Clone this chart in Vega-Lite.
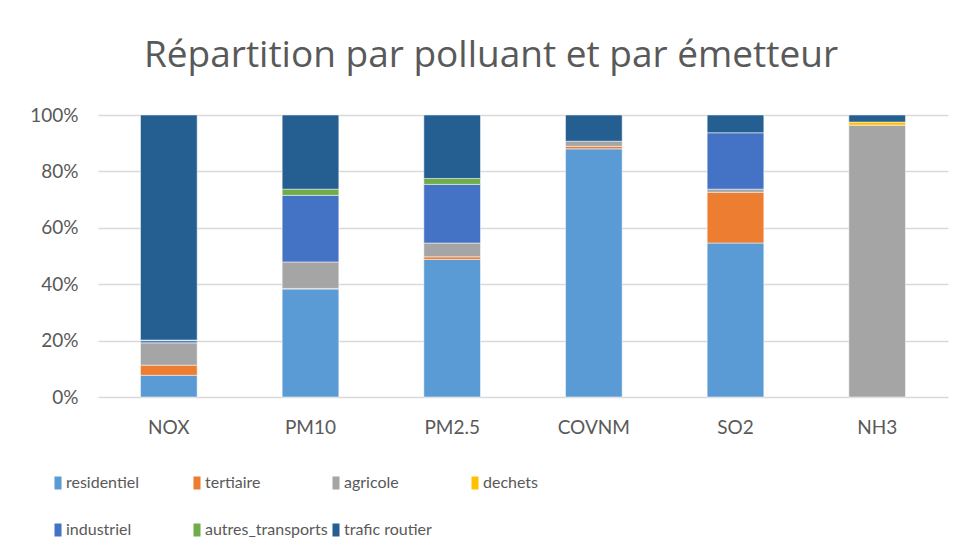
{
  "$schema": "https://vega.github.io/schema/vega-lite/v6.json",
  "width": 850,
  "height": 282,
  "autosize": {"type": "none"},
  "padding": {"left": 98, "top": 115, "right": 10, "bottom": 156},
  "background": "white",
  "config": {
    "view": {"stroke": null},
    "font": "Lato",
    "axis": {"labelFont": "Lato", "labelColor": "#595959", "labelFontSize": 19, "domain": false, "ticks": false, "title": null},
    "legend": {"labelFont": "Lato", "labelColor": "#595959", "labelFontSize": 16}
  },
  "title": {
    "text": "Répartition par polluant et par émetteur",
    "font": "Open Sans",
    "fontSize": 37,
    "fontWeight": "normal",
    "color": "#595959",
    "anchor": "middle",
    "dx": -32,
    "offset": 31
  },
  "data": {
    "values": [
      {"polluant": "NOX", "emetteur": "residentiel", "rang": 1, "part": 7.7},
      {"polluant": "NOX", "emetteur": "tertiaire", "rang": 2, "part": 3.6},
      {"polluant": "NOX", "emetteur": "agricole", "rang": 3, "part": 7.9},
      {"polluant": "NOX", "emetteur": "industriel", "rang": 5, "part": 0.8},
      {"polluant": "NOX", "emetteur": "autres_transports", "rang": 6, "part": 0.2},
      {"polluant": "NOX", "emetteur": "trafic routier", "rang": 7, "part": 79.8},
      {"polluant": "PM10", "emetteur": "residentiel", "rang": 1, "part": 38.3},
      {"polluant": "PM10", "emetteur": "tertiaire", "rang": 2, "part": 0.2},
      {"polluant": "PM10", "emetteur": "agricole", "rang": 3, "part": 9.4},
      {"polluant": "PM10", "emetteur": "industriel", "rang": 5, "part": 23.6},
      {"polluant": "PM10", "emetteur": "autres_transports", "rang": 6, "part": 2.2},
      {"polluant": "PM10", "emetteur": "trafic routier", "rang": 7, "part": 26.3},
      {"polluant": "PM2.5", "emetteur": "residentiel", "rang": 1, "part": 48.8},
      {"polluant": "PM2.5", "emetteur": "tertiaire", "rang": 2, "part": 0.9},
      {"polluant": "PM2.5", "emetteur": "agricole", "rang": 3, "part": 4.9},
      {"polluant": "PM2.5", "emetteur": "industriel", "rang": 5, "part": 20.8},
      {"polluant": "PM2.5", "emetteur": "autres_transports", "rang": 6, "part": 2.1},
      {"polluant": "PM2.5", "emetteur": "trafic routier", "rang": 7, "part": 22.5},
      {"polluant": "COVNM", "emetteur": "residentiel", "rang": 1, "part": 88.0},
      {"polluant": "COVNM", "emetteur": "tertiaire", "rang": 2, "part": 0.9},
      {"polluant": "COVNM", "emetteur": "agricole", "rang": 3, "part": 1.8},
      {"polluant": "COVNM", "emetteur": "trafic routier", "rang": 7, "part": 9.3},
      {"polluant": "SO2", "emetteur": "residentiel", "rang": 1, "part": 54.6},
      {"polluant": "SO2", "emetteur": "tertiaire", "rang": 2, "part": 18.0},
      {"polluant": "SO2", "emetteur": "agricole", "rang": 3, "part": 1.1},
      {"polluant": "SO2", "emetteur": "industriel", "rang": 5, "part": 20.0},
      {"polluant": "SO2", "emetteur": "trafic routier", "rang": 7, "part": 6.3},
      {"polluant": "NH3", "emetteur": "agricole", "rang": 3, "part": 96.4},
      {"polluant": "NH3", "emetteur": "dechets", "rang": 4, "part": 1.1},
      {"polluant": "NH3", "emetteur": "trafic routier", "rang": 7, "part": 2.5}
    ]
  },
  "mark": {"type": "bar", "stroke": "white", "strokeWidth": 0.5},
  "encoding": {
    "x": {
      "field": "polluant",
      "type": "nominal",
      "sort": ["NOX", "PM10", "PM2.5", "COVNM", "SO2", "NH3"],
      "scale": {"paddingInner": 0.6, "paddingOuter": 0.3},
      "axis": {"labelAngle": 0, "labelPadding": 21, "grid": false}
    },
    "y": {
      "field": "part",
      "type": "quantitative",
      "stack": "normalize",
      "scale": {"domain": [0, 1]},
      "axis": {"format": "%", "values": [0, 0.2, 0.4, 0.6, 0.8, 1], "labelOverlap": false, "grid": true, "gridColor": "#D9D9D9", "gridWidth": 1.5, "labelPadding": 20}
    },
    "order": {"field": "rang", "type": "quantitative", "sort": "ascending"},
    "color": {
      "field": "emetteur",
      "type": "nominal",
      "sort": ["residentiel", "tertiaire", "agricole", "dechets", "industriel", "autres_transports", "trafic routier"],
      "scale": {
        "domain": ["residentiel", "tertiaire", "agricole", "dechets", "industriel", "autres_transports", "trafic routier"],
        "range": ["#5B9BD5", "#ED7D31", "#A5A5A5", "#FFC000", "#4472C4", "#70AD47", "#255E91"]
      },
      "legend": {
        "title": null,
        "orient": "none",
        "legendX": -48,
        "legendY": 360,
        "direction": "horizontal",
        "columns": 4,
        "gridAlign": "all",
        "symbolType": "M-0.54,-1H0.54V1H-0.54Z",
        "symbolSize": 169,
        "symbolStrokeWidth": 0,
        "labelOffset": 0,
        "columnPadding": 0,
        "rowPadding": 31
      }
    }
  }
}
